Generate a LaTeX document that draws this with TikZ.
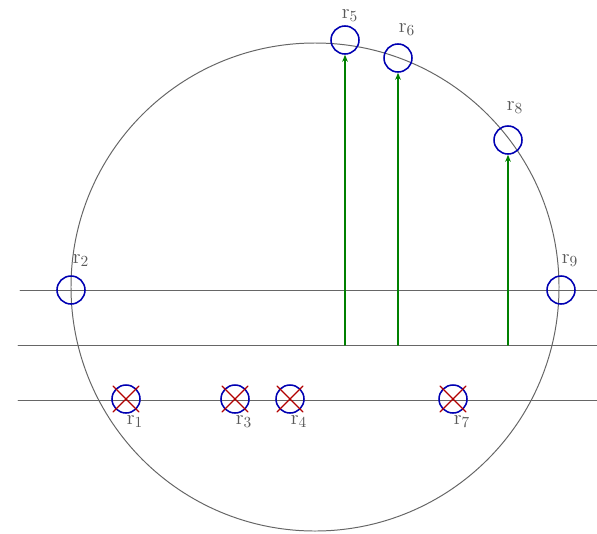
\documentclass[tikz,border=0pt]{standalone}
\usetikzlibrary{arrows.meta}
\begin{document}
\begin{tikzpicture}[x=0.025cm,y=-0.025cm,line cap=round,line join=round,>={Stealth[length=5pt,width=4pt]},font=\fontsize{15}{18}\selectfont,
	ring/.style={circle,draw=blue!70!black,line width=1.1pt,minimum size=0.7cm,inner sep=0pt},
	lab/.style={text=black!65,inner sep=1pt},
	guide/.style={black!60,line width=0.7pt},
	cross/.style={red!70!black,line width=0.9pt},
	ray/.style={->,green!50!black,line width=1.1pt}]
	\useasboundingbox (0,0) rectangle (597,533);
	% big circle and the three horizontal lines
	\draw[guide] (315,287) circle (244);
	\draw[guide] (20,290)--(597,290)
		(18,345)--(597,345)
		(18,400)--(597,400);
	% open receivers
	\foreach \n/\x/\y/\lx/\ly in {2/71/290/81/261,9/561/290/570/261,5/345/40/350/16,6/398/58/407/30,8/508/140/515/108}{
		\node[ring] (r\n) at (\x,\y) {};
		\node[lab] (l\n) at (\lx,\ly) {$\mathrm{r}_{\n}$};}
	% crossed receivers
	\foreach \n/\x in {1/126,3/235,4/290,7/453}{
		\node[ring] (r\n) at (\x,399) {};
		\draw[cross] (r\n.center) +(-13,-13)--+(13,13) (r\n.center) +(-13,13)--+(13,-13);
		\node[lab] (l\n) at (\x+9,422) {$\mathrm{r}_{\n}$};}
	% upward rays
	\foreach \n/\x in {5/345,6/398,8/508}{
		\coordinate (b\n) at (\x,345);
		\draw[ray] (b\n)--(r\n.south);}
\end{tikzpicture}
\end{document}
